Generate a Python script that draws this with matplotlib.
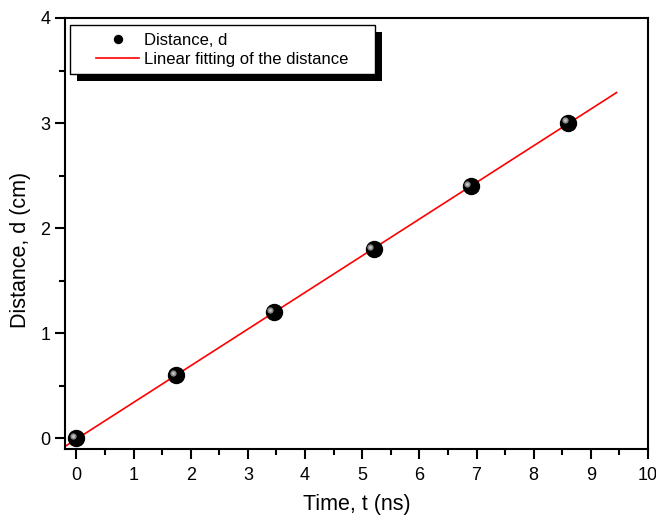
import matplotlib
matplotlib.use('Agg')
import matplotlib.pyplot as plt
from matplotlib.patches import Rectangle
from matplotlib.ticker import MultipleLocator
import numpy as np

plt.rcParams['font.family'] = ['Liberation Sans', 'DejaVu Sans']

# measured points
time_ns = [0.0, 1.75, 3.45, 5.2, 6.9, 8.6]
distance_cm = [0.0, 0.6, 1.2, 1.8, 2.4, 3.0]
fit_range = [-0.2, 9.45]

slope, intercept = np.polyfit(time_ns, distance_cm, 1)
fit_t = np.array(fit_range)
fit_d = slope * fit_t + intercept

W, H = 656, 518
fig = plt.figure(figsize=(W / 100, H / 100), dpi=100)
ax = fig.add_axes([65 / W, 1 - 449 / H, (648 - 65) / W, (449 - 18) / H])

ax.plot(fit_t, fit_d, color='red', lw=1.2, label='Linear fitting of the distance', zorder=2)
# sphere-like markers: black ball with a grey highlight
ax.plot(time_ns, distance_cm, 'o', color='black', ms=11.5, ls='none',
        label='Distance, d', zorder=3)
ax.plot(np.array(time_ns) - 0.06, np.array(distance_cm) + 0.025, 'o',
        color='#8c8c8c', ms=4.5, mec='none', ls='none', zorder=4)
ax.plot(np.array(time_ns) - 0.06, np.array(distance_cm) + 0.025, 'o',
        color='#c8c8c8', ms=2, mec='none', ls='none', zorder=5)

ax.set_xlim(-0.2, 10)
ax.set_ylim(-0.1, 4)
ax.xaxis.set_major_locator(MultipleLocator(1))
ax.xaxis.set_minor_locator(MultipleLocator(0.5))
ax.yaxis.set_major_locator(MultipleLocator(1))
ax.yaxis.set_minor_locator(MultipleLocator(0.5))
ax.tick_params(which='both', direction='out', width=1.5, labelsize=13)
ax.tick_params(which='major', length=7)
ax.tick_params(axis='x', which='major', pad=6)
ax.tick_params(which='minor', length=4)
for s in ax.spines.values():
    s.set_linewidth(1.5)

ax.set_xlabel('Time, t (ns)', fontsize=15.5, labelpad=7)
ax.set_ylabel('Distance, d (cm)', fontsize=15.5)
ax.yaxis.set_label_coords(-34 / (648 - 65), 0.463)

handles, labels = ax.get_legend_handles_labels()
leg = ax.legend(handles[::-1], labels[::-1], loc='upper left',
                bbox_to_anchor=(31 / (648 - 65), 1 - 15 / (449 - 18)),
                borderaxespad=0, fontsize=12, frameon=False, markerscale=0.5,
                handlelength=2.6, handletextpad=0.3, borderpad=0.0,
                labelspacing=0.25)

# legend frame with a drop shadow, drawn by hand for the wide padding
fig.canvas.draw()
bb = leg.get_window_extent()
x0, x1 = bb.x0 - 26, bb.x1 + 26
y0, y1 = bb.y0 - 7, bb.y1 + 8
for off, fc, ec in [(7, 'black', 'none'), (0, 'white', 'black')]:
    r = Rectangle(((x0 + off) / W, (y0 - off) / H), (x1 - x0) / W, (y1 - y0) / H,
                  transform=fig.transFigure, facecolor=fc, edgecolor=ec,
                  lw=1.0, zorder=9)
    r.set_clip_on(False)
    ax.add_artist(r)
leg.set_zorder(10)

fig.savefig('out.png', dpi=100)
